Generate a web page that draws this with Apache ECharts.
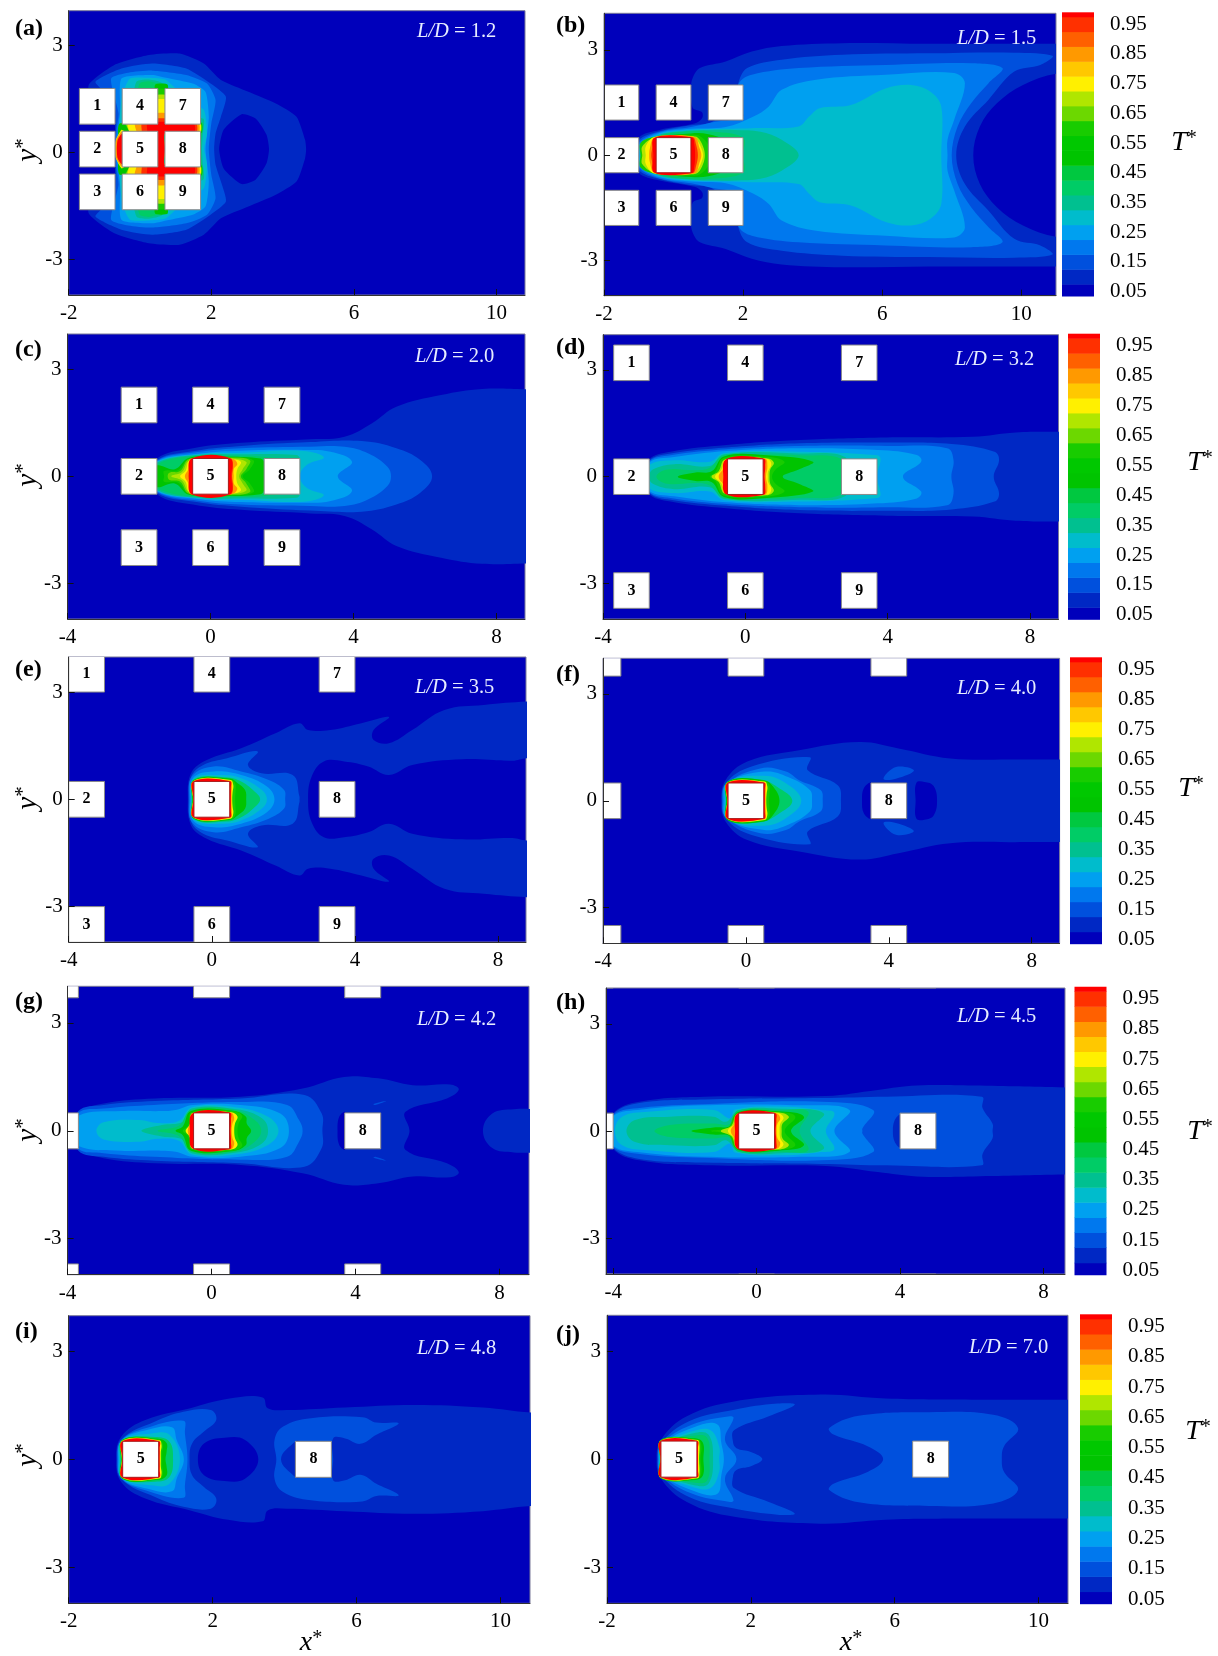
<!DOCTYPE html>
<html><head><meta charset="utf-8">
<style>html,body{margin:0;padding:0;background:#fff}#c{width:1218px;height:1656px}</style>
<script src="https://cdn.jsdelivr.net/npm/echarts@6/dist/echarts.min.js"></script>
</head><body><div id="c"></div>
<script>
const FONT = 'Liberation Serif';
const bandEdges = [0.035,0.075,0.125,0.175,0.225,0.275,0.325,0.375,0.425,0.475,0.525,0.575,0.625,0.675,0.725,0.775,0.825,0.875,0.925,0.975,0.99];
const bandColors = ['#0000bb','#0028c4','#0050dd','#0078ee','#00a0f0','#00bccc','#00c090','#00cc66','#00c840','#00c400','#00c800','#18cc00','#6cd800','#b0e600','#fff000','#ffc800','#ff9900','#ff6000','#ff3000','#ff0000'];
const colorbarTicks = [0.05,0.15,0.25,0.35,0.45,0.55,0.65,0.75,0.85,0.95];

const panelTags = ['(a)','(b)','(c)','(d)','(e)','(f)','(g)','(h)','(i)','(j)'];
const spacings = [1.2,1.5,2.0,3.2,3.5,4.0,4.2,4.5,4.8,7.0];
const spacingText = ['1.2','1.5','2.0','3.2','3.5','4.0','4.2','4.5','4.8','7.0'];
const labelledSquares = [[1,2,3,4,5,6,7,8,9],[1,2,3,4,5,6,7,8,9],[1,2,3,4,5,6,7,8,9],[1,2,3,4,5,6,7,8,9],[1,2,3,4,5,6,7,8,9],[5,8],[5,8],[5,8],[5,8],[5,8]];
const xRanges = [[-2,10.8],[-2,11],[-4,8.8],[-4,8.8],[-4,8.78],[-4,8.78],[-4,8.82],[-4.2,8.6],[-2,10.82],[-2,10.82]];
const yRanges = [[-3.99,3.98],[-4,4.04],[-4,3.99],[-4,3.99],[-3.99,3.98],[-4,4],[-4,4.02],[-4,4],[-4,3.99],[-4,3.99]];
const xTickSets = [[-2,2,6,10],[-2,2,6,10],[-4,0,4,8],[-4,0,4,8],[-4,0,4,8],[-4,0,4,8],[-4,0,4,8],[-4,0,4,8],[-2,2,6,10],[-2,2,6,10]];
const yTicks = [-3,0,3];
const wakeAxis = [0.1,0,0,0,0,0,0,0,0,0];
const smoothing = [0.2,0.35,0.4,0.4,0.4,0.4,0.4,0.4,0.4,0.4];

// each entry: [colour band, upper-half outline x,y,x,y...] mirrored across the wake axis; third element 1 = closed island, drawn on both sides
const fieldA = [
[1,[-.7,0,-.7,.6,-.75,.9,-1.3,1.2,-1.44,1.8,-.72,2.36,.25,2.64,1.11,2.68,1.79,2.4,2.27,1.94,3.04,1.61,3.81,1.28,4.39,.91,4.63,.26,4.66,0]],
[0,[2.22,0,2.35,.55,2.85,.98,3.25,.85,3.55,.4,3.62,0]],
[2,[-.7,0,-.68,.6,-.7,1.1,-1,1.6,-1.25,1.89,-.52,2.26,.34,2.4,1.3,2.26,1.98,1.84,2.41,1.47,2.27,.91,2.12,.44,2.08,0]],
[3,[-.68,0,-.66,.55,-.6,1,-.81,1.98,-.33,2.14,.34,2.2,1.3,2.08,1.88,1.84,2.12,1.38,2,.72,1.93,0]],
[4,[-.65,0,-.62,.5,-.55,1,-.52,1.98,.34,2.08,.73,2,1.5,1.83,1.84,1.6,1.93,.9,1.84,0]],
[5,[-.63,0,-.6,.48,-.5,1.5,-.28,1.98,.25,2,.73,1.94,1.3,1.4,1.79,1.1,1.88,.44,1.8,0]],
[6,[-.6,0,-.58,.47,-.4,.75,-.2,1.5,-.09,1.9,.25,1.95,.63,1.84,1,1,1.78,.85,1.76,.4,1.74,0]],
[7,[-.58,0,-.56,.47,-.3,.7,-.1,1.5,0,1.85,.25,1.9,.55,1.8,1,.9,1.75,.75,1.72,.3,1.7,0]],
[9,[0,0,-.6,.4,-.57,.72,.42,.72,.42,1.8,.78,1.8,.78,.74,1.72,.74,1.72,.45,.7,.45,.7,0]],
[11,[0,0,-.3,.5,-.42,.72,.42,.72,.42,1.65,.78,1.65,.78,.74,1.7,.74,1.7,.45,.7,.45,.7,0]],
[13,[0,0,-.3,.5,-.38,.72,.44,.72,.44,1.5,.76,1.5,.76,.74,1.69,.74,1.69,.45,.7,.45,.7,0]],
[14,[0,0,-.3,.5,-.33,.72,.44,.72,.44,1.37,.76,1.37,.76,.74,1.68,.74,1.68,.45,.7,.45,.7,0]],
[16,[0,0,-.1,.5,-.14,.72,.44,.72,.44,1,.76,1,.76,.74,1.64,.74,1.64,.45,.7,.45,.7,0]],
[18,[0,0,.05,.5,.05,.72,.44,.72,.44,.85,.76,.85,.76,.72,1.58,.72,1.58,.45,.7,.45,.7,0]],
[19,[0,0,.2,.5,.2,.7,.45,.7,.45,.76,.76,.76,.76,.7,1.52,.7,1.52,.45,.7,.45,.7,0]],
[14,[-.69,0,-.68,.25,-.52,.54,-.45,.5,-.45,0]],
[16,[-.69,0,-.67,.25,-.53,.48,-.45,.45,-.45,0]],
[19,[-.65,0,-.63,.25,-.52,.42,-.45,.4,-.45,0]]
];
const fieldB = [
[1,[-1,0,-1,.5,-.4,.72,.6,.9,.82,1.05,.82,1.22,.55,1.35,.5,1.9,.55,2.2,.76,2.48,1.5,2.67,2.25,2.95,3.11,3.11,4.85,3.19,7.33,3.17,11,3.17,12,3.17,13,3.17,13,2.32,12,2.32,11,2.32,10.05,2,9.3,1.48,8.81,.82,8.62,0]],
[2,[-1,0,-1,.42,-.4,.68,.5,.85,1,.9,1.2,1,1.8,1.3,1.85,2,2.12,2.48,3.11,2.72,4.85,2.86,7.33,2.9,9.8,2.92,10.9,2.83,10.55,2.57,9.8,2.38,9.06,1.58,8.38,.82,8.13,0]],
[3,[-1,0,-1,.36,-.4,.66,.5,.8,1.2,.95,2,1.1,1.8,1.5,1.88,2.05,2.25,2.29,3.6,2.48,6.1,2.57,8.56,2.62,9.46,2.48,9.06,2.05,8.56,1.48,8.17,.82,8,0]],
[4,[-1,0,-1,.3,-.4,.63,.5,.75,1.5,.8,2.3,1.1,2.74,1.39,3.11,1.86,4.1,2.15,6.1,2.29,8.07,2.34,8.38,2.05,8.07,1,7.88,.44,7.88,0]],
[5,[-.97,0,-.95,.25,-.4,.6,.5,.72,1.5,.75,2.25,.77,3.6,.82,3.9,1.1,4.2,1.34,5.1,1.43,6.1,1.9,6.83,2,7.39,1.81,7.7,1.39,7.7,0]],
[6,[-.95,0,-.9,.22,-.4,.58,.5,.7,1,.72,1.75,.72,2.5,.67,3.11,.44,3.6,0]],
[7,[-.93,0,-.87,.2,-.4,.55,.5,.68,1,.68,2,.5,2,0]],
[9,[-.9,0,-.85,.18,-.4,.5,.5,.62,1,.6,1.5,.4,1.5,0]],
[11,[-.95,0,-.95,.35,-.5,.53,.5,.58,.75,.55,1,.3,1.05,0]],
[13,[-.9,0,-.9,.25,-.55,.5,.5,.54,.7,.5,.85,.25,.9,0]],
[14,[-.8,0,-.8,.25,-.55,.52,.55,.53,.7,.4,.8,.2,.85,0]],
[16,[-.7,0,-.68,.2,-.55,.5,.6,.52,.75,.2,.8,0]],
[18,[-.64,0,-.6,.25,-.55,.45,.55,.51,.65,.3,.7,0]],
[19,[-.58,0,-.55,.5,.53,.505,.6,.3,.62,0]]
];
const fieldC = [
[1,[-1.5,0,-1.5,.5,-.49,.79,.86,.94,2.79,1.04,3.75,1.11,4.52,1.49,5.2,1.95,6.45,2.28,7.6,2.45,8.9,2.44,10,2.44,11,2.44,11,0]],
[2,[-1.5,0,-1.5,.46,-.39,.72,.86,.85,2.79,.96,4.23,.99,5.2,.79,5.87,.46,6.2,0]],
[3,[-1.5,0,-1.5,.44,-.3,.69,.86,.79,2.79,.83,3.75,.83,4.42,.64,4.95,.27,5.05,0]],
[4,[-1.5,0,-1.5,.42,-.3,.64,.86,.72,2.6,.74,3.36,.69,3.96,.41,3.56,0]],
[5,[-1.5,0,-1.5,.4,-.3,.62,.86,.66,2.6,.71,3.17,.53,2.69,.32,2.5,0]],
[6,[-1.5,0,-1.5,.38,-.4,.6,.86,.62,2.4,.6,2.5,.5,2.5,0]],
[7,[-1.5,0,-1.5,.33,-.55,.56,.8,.58,1.5,.55,2.3,.4,2.5,0]],
[9,[-1.5,0,-1.5,.3,-1,.2,-.6,.52,.5,.55,1.4,.5,1.5,.4,1.6,0]],
[11,[-1.3,0,-1.3,.15,-.9,.18,-.6,.5,.5,.54,1.2,.45,1.1,.2,.9,0]],
[12,[-1.2,0,-1.15,.1,-.85,.15,-.6,.48,.55,.52,1.1,.45,1,.2,.85,0]],
[13,[-1.1,0,-.8,.12,-.58,.45,.55,.5,1,.4,.9,.2,.8,0]],
[14,[-.85,0,-.7,.15,-.57,.45,.6,.48,.85,.4,.75,.2,.72,0]],
[16,[-.72,0,-.62,.2,-.55,.5,.6,.5,.75,.35,.65,.2,.65,0]],
[18,[-.62,0,-.55,.3,-.52,.51,.55,.51,.63,.3,.6,0]],
[19,[-.6,0,-.52,.5,.54,.505,.58,0]]
];
const fieldD = [
[1,[-2.72,0,-2.72,.47,-2.1,.7,-.53,.89,1.53,1.03,3.97,1.1,6.4,1.12,7.6,1.24,8.9,1.26,10,1.26,11,1.26,11,0]],
[2,[-2.7,0,-2.7,.45,-2.1,.65,-.53,.82,1.53,.94,3.97,.96,5.8,.92,7,.7,7.13,.47,6.98,0]],
[3,[-2.7,0,-2.7,.43,-2.1,.6,-.53,.77,1.53,.86,3.97,.86,5.67,.8,5.85,.47,5.79,0]],
[4,[-2.7,0,-2.7,.4,-2,.55,-.53,.72,1.53,.8,3.72,.75,4.82,.61,4.94,.42,4.43,0]],
[5,[-2.7,0,-2.7,.33,-2,.46,-1,.42,-.6,.66,1.5,.7,3.7,.6,3.8,.5,3.7,0]],
[6,[-2.7,0,-2.6,.2,-2,.35,-1,.3,-.6,.63,1.5,.65,2.8,.55,2.7,0]],
[7,[-2.5,0,-2.2,.2,-1.4,.18,-1,.25,-.6,.6,.5,.62,1.5,.6,2.7,.5,2.7,0]],
[9,[-1.9,0,-1.4,.12,-.95,.15,-.6,.57,.6,.6,1.9,.42,1.5,.2,1.05,0]],
[11,[-1,0,-.85,.12,-.6,.53,.6,.56,1.1,.42,.85,.2,.75,0]],
[13,[-.95,0,-.75,.15,-.57,.48,.6,.52,.8,.4,.7,.2,.68,0]],
[14,[-.85,0,-.68,.18,-.55,.48,.62,.5,.73,.35,.64,.15,.63,0]],
[16,[-.75,0,-.6,.25,-.52,.5,.55,.51,.62,.3,.58,0]],
[19,[-.62,0,-.53,.5,.52,.505,.56,.3,.54,0]]
];
const fieldE = [
[1,[-.67,0,-.58,.73,-.14,1.1,.82,1.43,1.78,1.85,2.45,2.13,2.69,1.94,3.31,1.94,4.18,2.13,4.95,2.3,4.52,1.94,4.52,1.66,4.95,1.57,5.6,1.94,6.5,2.5,7.6,2.64,8.9,2.74,10,2.76,11,2.76,11,1.15,10,1.15,8.8,1.15,8.4,1.08,7,1.12,5.6,.96,4.95,.68,4.37,.92,3.7,1.06,3.13,1.06,2.79,.64,2.69,0]],
[2,[-.65,0,-.58,.63,-.24,.96,.43,1.15,1.28,1.34,1.01,.96,1.39,.73,2.26,.68,2.45,.07,2.45,0]],
[3,[-.63,0,-.55,.65,.05,.92,.82,.78,1.59,.54,2.02,.26,2.05,0]],
[4,[-.6,0,-.52,.6,.05,.78,.82,.68,1.54,.36,1.75,0]],
[5,[-.58,0,-.5,.58,.24,.68,.82,.59,1.4,.26,1.54,0]],
[7,[-.56,0,-.5,.56,.4,.62,.82,.5,1.25,.17,1.35,0]],
[9,[-.54,0,-.5,.54,.5,.58,.72,.45,.93,.26,.96,0]],
[11,[-.53,0,-.5,.53,.5,.56,.65,.45,.66,.2,.65,0]],
[14,[-.52,0,-.5,.52,.52,.54,.6,.4,.58,.2,.57,0]],
[16,[-.52,0,-.51,.51,.52,.52,.56,.4,.55,.2,.55,0]],
[19,[-.51,0,-.51,.505,.51,.505,.53,.3,.53,0]]
];
const fieldF = [
[1,[-.69,0,-.57,.58,.04,1.1,1.49,1.42,3.18,1.65,4.27,1.47,5.72,1.19,7.53,1.16,8.9,1.16,10,1.16,11,1.16,11,0]],
[0,[3.25,0,3.3,.35,3.5,.5,3.5,0]],
[0,[4.75,0,4.77,.5,5,.53,5.25,.42,5.35,0]],
[2,[3.85,.62,4.2,.95,4.7,.85,4.2,.62],1],
[2,[-.67,0,-.57,.49,.16,.96,1.79,1.22,1.73,.86,2.57,.44,2.66,0]],
[3,[-.65,0,-.55,.47,.4,.91,1.12,.82,1.49,.58,2.09,.3,2.15,0]],
[4,[-.62,0,-.53,.5,.52,.82,1.18,.67,1.79,.3,1.85,0]],
[5,[-.58,0,-.52,.52,.5,.7,1.12,.49,1.55,0]],
[7,[-.56,0,-.51,.52,.4,.6,.88,.39,1.3,0]],
[9,[-.55,0,-.5,.55,.5,.58,.76,.4,.94,0]],
[11,[-.53,0,-.5,.53,.5,.56,.65,.45,.66,.2,.65,0]],
[14,[-.52,0,-.5,.52,.52,.54,.6,.4,.58,.2,.57,0]],
[16,[-.52,0,-.51,.51,.52,.52,.56,.4,.55,.2,.55,0]],
[19,[-.51,0,-.51,.505,.51,.505,.53,.3,.53,0]]
];
const fieldG = [
[1,[-3.7,0,-3.71,.48,-3,.76,-1.57,.9,.81,.95,2.53,1.18,3.68,1.5,4.63,1.46,5.59,1.27,6.63,1.29,6.87,1.15,6.54,.9,5.39,.53,5.5,0]],
[1,[7.54,0,7.8,.48,8.4,.6,9.2,.6,10,.6,10,0]],
[0,[3.5,0,3.55,.4,3.72,.52,3.72,0]],
[2,[-3.7,0,-3.7,.55,-3,.72,-1.57,.83,.81,.9,2.58,1,3.06,.48,3.08,0]],
[2,[4.5,.75,4.85,.83,4.55,.72],1],
[3,[-3.7,0,-3.7,.5,-3,.62,-1.6,.72,.8,.8,2.1,.72,2.43,.3,2.53,0]],
[4,[-3.7,0,-3.7,.42,-2.5,.55,-1.4,.55,-1,.58,-.52,.72,.8,.72,1.91,.48,2.15,0]],
[5,[-3.2,0,-3,.24,-2,.3,-1.5,.22,-.9,.28,-.55,.66,.7,.65,1.57,.39,1.86,0]],
[6,[-1.95,0,-1.38,.16,-.8,.25,-.55,.62,.7,.6,1.4,.35,1.57,0]],
[7,[-1.5,0,-.9,.15,-.57,.58,.65,.58,1.2,.3,1.38,0]],
[9,[-1,0,-.8,.12,-.57,.55,.6,.56,.95,.4,.98,.2,1.1,0]],
[11,[-.8,0,-.65,.15,-.55,.52,.58,.55,.85,.42,.75,.2,.72,0]],
[14,[-.72,0,-.6,.18,-.53,.5,.55,.52,.72,.4,.65,.2,.63,0]],
[16,[-.66,0,-.56,.3,-.51,.5,.53,.51,.63,.35,.58,.2,.56,0]],
[19,[-.6,0,-.51,.5,.51,.505,.54,.3,.53,0]]
];
const fieldH = [
[1,[-4,0,-4,.5,-3.27,.82,-1.46,.96,1.93,.98,3.38,1.15,4.47,1.27,6.04,1.27,8.6,1.22,9.6,1.22,10.6,1.22,10.6,0]],
[2,[-4,0,-4,.47,-3.27,.78,-1.46,.88,1.8,.92,3.62,.96,6.28,.96,6.3,.64,6.58,.2,6.58,0]],
[1,[3.8,0,3.85,.3,4,.45,4.02,0]],
[3,[-4,0,-4,.45,-3.2,.65,-1.5,.75,1.8,.82,3.25,.59,2.95,.07,2.95,0]],
[4,[-4,0,-4,.42,-3.2,.6,-1.5,.72,1.2,.72,2.59,.59,2.17,0]],
[5,[-3.95,0,-3.75,.4,-3.03,.54,-1.2,.59,-.73,.35,-.6,.6,.72,.68,1.8,.59,2.17,.5,1.93,0]],
[6,[-3.63,0,-3.39,.31,-2.42,.4,-1.2,.4,-.85,.26,-.49,.59,.7,.62,1.87,.5,1.5,0]],
[7,[-2.85,0,-2.42,.17,-1.2,.21,-.73,.2,-.52,.57,.7,.58,1.44,.54,1.2,0]],
[9,[-1.82,0,-1.2,.1,-.73,.15,-.52,.53,.6,.55,1.32,.4,.96,0]],
[11,[-1.28,0,-.8,.1,-.55,.5,.58,.53,1.08,.4,.78,0]],
[13,[-1,0,-.7,.15,-.53,.48,.62,.52,.9,.4,.72,.2,.7,0]],
[14,[-.8,0,-.62,.2,-.52,.48,.6,.5,.75,.38,.66,.2,.64,0]],
[16,[-.72,0,-.58,.25,-.5,.5,.55,.5,.66,.35,.58,.2,.56,0]],
[19,[-.6,0,-.52,.5,.52,.5,.55,.3,.53,0]]
];
const fieldI = [
[1,[-.68,0,-.54,.63,.13,1.09,1.38,1.42,2.43,1.68,3.39,1.72,3.53,1.42,4.06,1.37,5.68,1.44,7.6,1.51,9.51,1.44,10.85,1.3,12,1.3,13,1.3,13,0]],
[0,[1.59,0,1.76,.44,2.33,.6,2.9,.54,3.27,0]],
[2,[-.66,0,-.54,.55,.4,1.05,1.19,1.32,1.95,1.37,2.1,1.09,1.76,.77,1.43,.44,1.36,0]],
[2,[3.77,0,3.72,.54,3.96,.91,4.73,1.14,6.16,1.17,6.55,1.02,7.17,1,6.55,.68,6.11,.43,5.68,.58,5.35,.58,5.35,0]],
[1,[3.9,0,4.3,.5,4.4,.5,4.4,0]],
[3,[-.64,0,-.53,.53,.13,.86,1.19,1.07,1.23,.72,1.3,0]],
[4,[-.62,0,-.52,.53,.2,.82,.87,.89,1,.54,1.2,0]],
[5,[-.6,0,-.52,.53,.3,.72,.8,.68,1.09,0]],
[7,[-.56,0,-.51,.53,.4,.62,.8,.49,.9,0]],
[9,[-.54,0,-.5,.55,.5,.57,.72,.45,.72,.2,.69,0]],
[11,[-.53,0,-.5,.54,.52,.55,.62,.4,.6,.2,.6,0]],
[14,[-.52,0,-.5,.52,.52,.53,.58,.4,.56,.2,.56,0]],
[19,[-.51,0,-.51,.505,.51,.505,.53,.3,.53,0]]
];
const fieldJ = [
[1,[-.62,0,-.5,.54,.22,1.19,1.54,1.6,3.94,1.79,5.74,1.68,8.14,1.65,10.85,1.65,12,1.65,13,1.65,13,0]],
[2,[-.6,0,-.5,.44,.28,1.05,1.54,1.37,2.74,1.54,3.22,1.51,2.5,1.19,1.54,.81,1.5,.5,1.6,.3,2,.2,2.32,0]],
[2,[5.68,0,5.26,.35,4.3,.68,4.18,.86,5,1.2,6.94,1.3,8.74,1.23,9.43,.86,9.04,.35,8.98,0]],
[3,[-.58,0,-.49,.42,.34,.95,1.42,1.19,1.52,1.14,1.28,.54,1.6,0]],
[4,[-.56,0,-.48,.4,.4,.88,1.06,.97,1.18,.44,1.25,0]],
[5,[-.54,0,-.47,.4,.4,.78,.88,.8,1.12,.35,1.12,0]],
[6,[-.53,0,-.47,.38,.4,.72,.82,.68,.95,0]],
[7,[-.52,0,-.46,.45,.4,.65,.78,.6,.85,0]],
[9,[-.52,0,-.5,.52,.45,.58,.67,.45,.68,0]],
[11,[-.51,0,-.5,.54,.5,.55,.62,.4,.6,0]],
[14,[-.51,0,-.5,.52,.52,.53,.57,.4,.56,0]],
[19,[-.51,0,-.51,.505,.51,.505,.53,.3,.53,0]]
];
const fields = [fieldA,fieldB,fieldC,fieldD,fieldE,fieldF,fieldG,fieldH,fieldI,fieldJ];

// page layout in pixels: left, right, top, bottom
const plotBoxes = [[68.7,525,10.7,295],[604,1056,13.3,295.7],[67.6,525,334,619],[603,1058.5,334.7,619],[68.7,526,657,942],[603,1059.6,658.3,943.3],[67.6,529,986.3,1274.7],[606,1065,988,1274],[68.7,530,1315.7,1603.3],[607,1068,1315.3,1603.3]];
const barBoxes = {1:[1062,1094,12.3,296],3:[1068,1100,333.7,619.3],5:[1070,1102,657.3,943.7],7:[1074.5,1106.5,986.7,1274.7],9:[1080,1112,1314.3,1603.7]};
const tagPos = [[15,29],[556,26],[15,350],[556,348],[15,670],[556,675],[15,1002],[556,1003],[15,1332],[556,1335]];
const ratioPos = [[417,32],[957,39],[415,357],[955,360],[415,688],[957,689],[417,1020],[957,1017],[417,1349],[969,1348]];
const yNamePos = [[28,150],[28,475],[28,798],[28,1130],[28,1455]];
const tNamePos = [[1184,143],[1200,463],[1191,789],[1200,1132],[1198,1432]];
const xNamePos = [[311,1643],[851,1643]];

function outline(flat, axis, island){
  const up=[]; for(let i=0;i<flat.length;i+=2) up.push([flat[i],flat[i+1]]);
  if(island) return [up.map(p=>[p[0],axis+p[1]]), up.map(p=>[p[0],axis-p[1]])];
  const all=up.map(p=>[p[0],axis+p[1]]);
  for(let i=up.length-1;i>=0;i--) if(up[i][1]!==0) all.push([up[i][0],axis-up[i][1]]);
  return [all];
}
const grids=[],xAxes=[],yAxes=[],series=[],graphics=[];
plotBoxes.forEach((b,p)=>{
  grids.push({left:b[0],top:b[2],width:b[1]-b[0],height:b[3]-b[2],show:true,backgroundColor:bandColors[0],borderColor:'#7a7a9a',borderWidth:1,containLabel:false});
  xAxes.push({type:'value',gridIndex:p,min:xRanges[p][0],max:xRanges[p][1],z:10,splitLine:{show:false},
    axisLine:{onZero:false,lineStyle:{color:'#333',width:1}},
    axisTick:{inside:true,length:6,lineStyle:{color:'#111'},customValues:xTickSets[p]},
    axisLabel:{color:'#000',fontFamily:FONT,fontSize:21,margin:8,customValues:xTickSets[p],hideOverlap:false,showMinLabel:true,showMaxLabel:true}});
  yAxes.push({type:'value',gridIndex:p,min:yRanges[p][0],max:yRanges[p][1],z:10,splitLine:{show:false},
    axisLine:{onZero:false,lineStyle:{color:'#333',width:1}},
    axisTick:{inside:true,length:6,lineStyle:{color:'#111'},customValues:yTicks},
    axisLabel:{color:'#000',fontFamily:FONT,fontSize:21,margin:6,padding:[4,0,0,0],customValues:yTicks}});
  const field=fields[p];
  series.push({type:'custom',xAxisIndex:p,yAxisIndex:p,coordinateSystem:'cartesian2d',clip:true,silent:true,z:2,animation:false,
    data:field.map((_,i)=>[i,0]),
    renderItem(params,api){
      const d=field[params.dataIndex];
      const rings=outline(d[1],wakeAxis[p],d[2]===1);
      return {type:'group',children:rings.map(r=>({type:'polygon',
        shape:{points:r.map(q=>api.coord(q)),smooth:smoothing[p]},
        style:{fill:bandColors[d[0]],stroke:null}}))};
    }});
  const L=spacings[p], squares=[];
  [-1,0,1].forEach((cx,ci)=>[1,0,-1].forEach((cy,ri)=>{
    const id=ci*3+ri+1;
    squares.push([cx*L,cy*L+wakeAxis[p],id]);
  }));
  series.push({type:'custom',xAxisIndex:p,yAxisIndex:p,coordinateSystem:'cartesian2d',clip:true,silent:true,z:3,animation:false,
    data:squares,
    renderItem(params,api){
      const x=api.value(0),y=api.value(1),id=api.value(2);
      const a=api.coord([x-.5,y+.5]),c=api.coord([x+.5,y-.5]);
      const kids=[{type:'rect',shape:{x:a[0],y:a[1],width:c[0]-a[0],height:c[1]-a[1]},
        style:{fill:'#fff',stroke:(id===5&&p>0)?'#a81a1a':'#8a8a8a',lineWidth:1}}];
      if(labelledSquares[p].includes(id)){
        kids.push({type:'text',style:{x:(a[0]+c[0])/2,y:(a[1]+c[1])/2,text:String(id),align:'center',verticalAlign:'middle',
          fill:'#000',font:'bold 16px "'+FONT+'"'}});
      }
      return {type:'group',children:kids};
    }});
  graphics.push({type:'text',x:tagPos[p][0],y:tagPos[p][1],z:20,style:{text:panelTags[p],fill:'#000',font:'bold 24px "'+FONT+'"',verticalAlign:'middle'}});
  graphics.push({type:'text',x:ratioPos[p][0],y:ratioPos[p][1],z:20,style:{text:'{i|L/D}{n| = '+spacingText[p]+'}',align:'left',verticalAlign:'middle',
    rich:{i:{fontFamily:FONT,fontStyle:'italic',fontSize:20.5,fill:'#e6ecff',color:'#e6ecff'},n:{fontFamily:FONT,fontSize:20.5,fill:'#e6ecff',color:'#e6ecff'}}}});
});
Object.keys(barBoxes).forEach(k=>{
  const b=barBoxes[k], gi=grids.length;
  grids.push({left:b[0],top:b[2],width:b[1]-b[0],height:b[3]-b[2]});
  xAxes.push({type:'value',gridIndex:gi,min:0,max:1,show:false});
  yAxes.push({type:'value',gridIndex:gi,position:'right',min:bandEdges[0],max:bandEdges[bandEdges.length-1],splitLine:{show:false},
    axisLine:{show:false},axisTick:{show:false},
    axisLabel:{color:'#000',fontFamily:FONT,fontSize:21,margin:16,padding:[2,0,0,0],customValues:colorbarTicks,formatter:v=>Number(v).toFixed(2)}});
  series.push({type:'custom',xAxisIndex:gi,yAxisIndex:gi,coordinateSystem:'cartesian2d',silent:true,animation:false,
    data:bandColors.map((_,i)=>[i,bandEdges[i],bandEdges[i+1]]),
    renderItem(params,api){
      const lo=api.coord([0,api.value(1)]),hi=api.coord([1,api.value(2)]);
      return {type:'rect',shape:{x:lo[0],y:hi[1],width:hi[0]-lo[0],height:lo[1]-hi[1]+.5},style:{fill:bandColors[params.dataIndex]}};
    }});
});
const supRich=(size)=>({i:{fontFamily:FONT,fontStyle:'italic',fontSize:size,fill:'#000',color:'#000'},s:{fontFamily:FONT,fontSize:size*0.72,fill:'#000',color:'#000',verticalAlign:'top',padding:[0,0,0,0]}});
yNamePos.forEach(q=>graphics.push({type:'text',x:q[0],y:q[1],rotation:Math.PI/2,z:20,style:{text:'{i|y}{s|*}',align:'center',verticalAlign:'middle',rich:supRich(29)}}));
tNamePos.forEach(q=>graphics.push({type:'text',x:q[0],y:q[1],z:20,style:{text:'{i|T}{s|*}',align:'center',verticalAlign:'middle',rich:supRich(28)}}));
xNamePos.forEach(q=>graphics.push({type:'text',x:q[0],y:q[1],z:20,style:{text:'{i|x}{s|*}',align:'center',verticalAlign:'middle',rich:supRich(28)}}));

const chart=echarts.init(document.getElementById('c'),null,{renderer:'canvas',width:1218,height:1656});
chart.setOption({animation:false,backgroundColor:'#fff',grid:grids,xAxis:xAxes,yAxis:yAxes,series:series,graphic:graphics});
</script></body></html>
